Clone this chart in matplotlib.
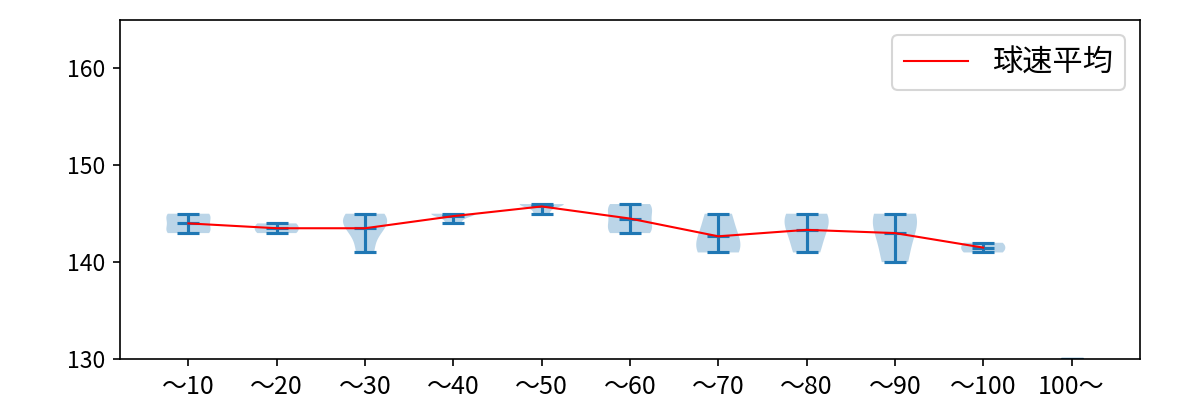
import matplotlib
matplotlib.use("Agg")
import matplotlib.pyplot as plt
import numpy as np

plt.rcParams['font.family'] = ['Noto Sans CJK JP', 'DejaVu Sans']

categories = ['〜10', '〜20', '〜30', '〜40', '〜50', '〜60', '〜70', '〜80', '〜90', '〜100', '100〜']
speeds = [
    [143, 143, 144, 145, 145],
    [143, 144],
    [141, 144, 144, 145],
    [144, 145, 145, 145],
    [145, 146, 146, 146],
    [143, 143, 144, 145, 146, 146],
    [141, 142, 145],
    [141, 144, 145],
    [140, 144, 145],
    [141, 142],
]
last_value = 130  # placeholder value for "100〜" (only its caps are visible)

fig = plt.figure(figsize=(8, 8 / 3), dpi=150)
ax = fig.add_axes([0.1, 0.1025, 0.85, 0.8475])

positions = np.arange(1, len(speeds) + 1)
parts = ax.violinplot(speeds, positions=positions, showmeans=True, showextrema=True)
c0 = parts['cmeans'].get_color()
lw = parts['cmeans'].get_linewidth()
ax.hlines([last_value] * 3, len(categories) - 0.125, len(categories) + 0.125, colors=c0, linewidth=lw)

means = [np.mean(s) for s in speeds]
ax.plot(positions, means, color='red', linewidth=1, label='球速平均')

ax.set_xticks(np.arange(1, len(categories) + 1))
ax.set_xticklabels(categories, fontsize=12)
ax.set_xlim(0.225, 11.775)
ax.set_ylim(130, 165)
ax.set_yticks([130, 140, 150, 160])
ax.tick_params(axis='y', labelsize=11)
ax.legend(loc='upper right', fontsize=14.5, handlelength=2.1)

fig.savefig('out.png', dpi=150)
